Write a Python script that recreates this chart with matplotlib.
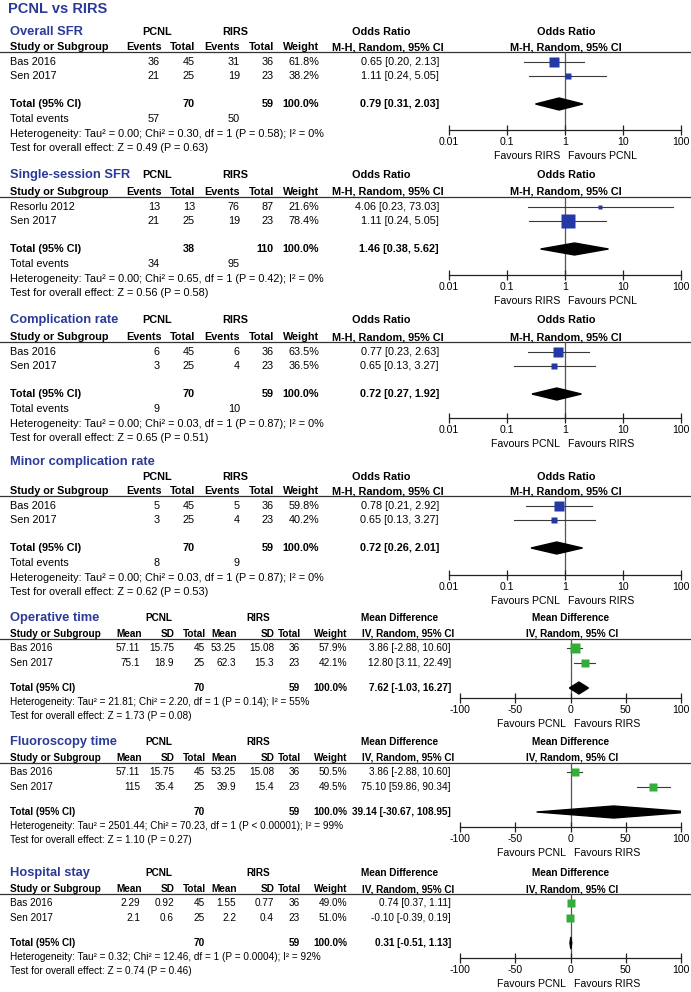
import matplotlib.pyplot as plt
import matplotlib as mpl

plt.rcParams['font.family'] = ['Liberation Sans', 'DejaVu Sans']

W, H = 691, 992

# ---------------------------------------------------------------------------
# data
# ---------------------------------------------------------------------------
titles = ['Overall SFR', 'Single-session SFR', 'Complication rate', 'Minor complication rate',
          'Operative time', 'Fluoroscopy time', 'Hospital stay']
kinds = ['or', 'or', 'or', 'or', 'md', 'md', 'md']

studies = [['Bas 2016', 'Sen 2017'], ['Resorlu 2012', 'Sen 2017'], ['Bas 2016', 'Sen 2017'],
           ['Bas 2016', 'Sen 2017'], ['Bas 2016', 'Sen 2017'], ['Bas 2016', 'Sen 2017'],
           ['Bas 2016', 'Sen 2017']]

# dichotomous outcomes (odds ratio)
pcnl_events = [[36, 21], [13, 21], [6, 3], [5, 3]]
rirs_events = [[31, 19], [76, 19], [6, 4], [5, 4]]
total_events = [(57, 50), (34, 95), (9, 10), (8, 9)]

# continuous outcomes (mean difference)
pcnl_mean = [[57.11, 75.1], [57.11, 115], [2.29, 2.1]]
pcnl_sd = [[15.75, 18.9], [15.75, 35.4], [0.92, 0.6]]
rirs_mean = [[53.25, 62.3], [53.25, 39.9], [1.55, 2.2]]
rirs_sd = [[15.08, 15.3], [15.08, 15.4], [0.77, 0.4]]

pcnl_total = [[45, 25], [13, 25], [45, 25], [45, 25], [45, 25], [45, 25], [45, 25]]
rirs_total = [[36, 23], [87, 23], [36, 23], [36, 23], [36, 23], [36, 23], [36, 23]]
weights = [[61.8, 38.2], [21.6, 78.4], [63.5, 36.5], [59.8, 40.2], [57.9, 42.1], [50.5, 49.5], [49.0, 51.0]]

est = [[0.65, 1.11], [4.06, 1.11], [0.77, 0.65], [0.78, 0.65], [3.86, 12.80], [3.86, 75.10], [0.74, -0.10]]
ci_lo = [[0.20, 0.24], [0.23, 0.24], [0.23, 0.13], [0.21, 0.13], [-2.88, 3.11], [-2.88, 59.86], [0.37, -0.39]]
ci_hi = [[2.13, 5.05], [73.03, 5.05], [2.63, 3.27], [2.92, 3.27], [10.60, 22.49], [10.60, 90.34], [1.11, 0.19]]

pooled = [(0.79, 0.31, 2.03), (1.46, 0.38, 5.62), (0.72, 0.27, 1.92), (0.72, 0.26, 2.01),
          (7.62, -1.03, 16.27), (39.14, -30.67, 108.95), (0.31, -0.51, 1.13)]

tau2 = ['0.00', '0.00', '0.00', '0.00', '21.81', '2501.44', '0.32']
chi2 = ['0.30', '0.65', '0.03', '0.03', '2.20', '70.23', '12.46']
p_het = ['= 0.58', '= 0.42', '= 0.87', '= 0.87', '= 0.14', '< 0.00001', '= 0.0004']
i2 = [0, 0, 0, 0, 55, 99, 92]
z_val = ['0.49', '0.56', '0.65', '0.62', '1.73', '1.10', '0.74']
p_z = ['0.63', '0.58', '0.51', '0.53', '0.08', '0.27', '0.46']

favours = [('Favours RIRS', 'Favours PCNL'), ('Favours RIRS', 'Favours PCNL'),
           ('Favours PCNL', 'Favours RIRS'), ('Favours PCNL', 'Favours RIRS'),
           ('Favours PCNL', 'Favours RIRS'), ('Favours PCNL', 'Favours RIRS'),
           ('Favours PCNL', 'Favours RIRS')]

# ---------------------------------------------------------------------------
# layout (pixel rows)
# ---------------------------------------------------------------------------
header_y = [32, 175, 320, 477, 618, 742, 873]
study_y = [47, 192, 337, 491, 634, 758, 889]
axis_y = [130, 275, 418, 575, 698, 827, 958]

blue = '#2b3a98'
sq_blue = '#2438a6'
sq_green = '#35ad3c'

fig = plt.figure(figsize=(W / 100, H / 100), dpi=100)
bg = fig.add_axes([0, 0, 1, 1])
bg.set_xlim(0, W)
bg.set_ylim(H, 0)
bg.axis('off')

fs = 7.8


def txt(x, y, s, ha='left', bold=False, **kw):
    bg.text(x, y, s, ha=ha, va='center', fontsize=kw.pop('size', fs),
            fontweight='bold' if bold else 'normal', **kw)


bg.text(8, 9, 'PCNL vs RIRS', fontsize=10.5, fontweight='bold', color=blue, va='center')

for i, title in enumerate(titles):
    kind = kinds[i]
    hy, sy, ay = header_y[i], study_y[i], axis_y[i]
    line_y = sy + 5
    fs = 7.8 if kind == 'or' else 7.2

    # section title
    txt(10, 462 if i == 3 else hy, title, bold=True, size=9.3, color=blue)

    bg.plot([0, W], [line_y, line_y], color='#333333', lw=0.9)

    if kind == 'or':
        rows = [sy + 15, sy + 29]
        tot_y = sy + 57
        het_y, test_y = sy + 87, sy + 101
        txt(157, hy, 'PCNL', ha='center', bold=True)
        txt(235, hy, 'RIRS', ha='center', bold=True)
        txt(10, sy, 'Study or Subgroup', bold=True)
        for x, lab in zip([162, 195, 240, 274, 319], ['Events', 'Total', 'Events', 'Total', 'Weight']):
            txt(x, sy, lab, ha='right', bold=True)
        txt(381, hy, 'Odds Ratio', ha='center', bold=True)
        txt(388, sy, 'M-H, Random, 95% CI', ha='center', bold=True)
        txt(566, hy, 'Odds Ratio', ha='center', bold=True)
        txt(566, sy, 'M-H, Random, 95% CI', ha='center', bold=True)
        for k, y in enumerate(rows):
            txt(10, y, studies[i][k])
            txt(160, y, str(pcnl_events[i][k]), ha='right')
            txt(195, y, str(pcnl_total[i][k]), ha='right')
            txt(240, y, str(rirs_events[i][k]), ha='right')
            txt(274, y, str(rirs_total[i][k]), ha='right')
            txt(319, y, f'{weights[i][k]:.1f}%', ha='right')
            txt(439, y, f'{est[i][k]:.2f} [{ci_lo[i][k]:.2f}, {ci_hi[i][k]:.2f}]', ha='right')
        txt(10, tot_y, 'Total (95% CI)', bold=True)
        txt(195, tot_y, str(sum(pcnl_total[i])), ha='right', bold=True)
        txt(274, tot_y, str(sum(rirs_total[i])), ha='right', bold=True)
        txt(319, tot_y, '100.0%', ha='right', bold=True)
        e, l, h = pooled[i]
        txt(439, tot_y, f'{e:.2f} [{l:.2f}, {h:.2f}]', ha='right', bold=True)
        txt(10, sy + 72, 'Total events')
        txt(160, sy + 72, str(total_events[i][0]), ha='right')
        txt(240, sy + 72, str(total_events[i][1]), ha='right')
        x0, x1 = 449, 681
        lims, null = (0.01, 100), 1
        color = sq_blue
    else:
        j = i - 4
        rows = [sy + 14, sy + 29]
        tot_y = sy + 54
        het_y, test_y = sy + 68, sy + 82
        txt(159, hy, 'PCNL', ha='center', bold=True)
        txt(258, hy, 'RIRS', ha='center', bold=True)
        txt(10, sy, 'Study or Subgroup', bold=True)
        for x, lab in zip([142, 175, 206, 237, 275, 301, 347],
                          ['Mean', 'SD', 'Total', 'Mean', 'SD', 'Total', 'Weight']):
            txt(x, sy, lab, ha='right', bold=True)
        txt(400, hy, 'Mean Difference', ha='center', bold=True)
        txt(408, sy, 'IV, Random, 95% CI', ha='center', bold=True)
        txt(571, hy, 'Mean Difference', ha='center', bold=True)
        txt(572, sy, 'IV, Random, 95% CI', ha='center', bold=True)
        for k, y in enumerate(rows):
            txt(10, y, studies[i][k])
            txt(140, y, str(pcnl_mean[j][k]), ha='right')
            txt(174, y, str(pcnl_sd[j][k]), ha='right')
            txt(205, y, str(pcnl_total[i][k]), ha='right')
            txt(236, y, str(rirs_mean[j][k]), ha='right')
            txt(274, y, str(rirs_sd[j][k]), ha='right')
            txt(300, y, str(rirs_total[i][k]), ha='right')
            txt(347, y, f'{weights[i][k]:.1f}%', ha='right')
            txt(451, y, f'{est[i][k]:.2f} [{ci_lo[i][k]:.2f}, {ci_hi[i][k]:.2f}]', ha='right')
        txt(10, tot_y, 'Total (95% CI)', bold=True)
        txt(205, tot_y, str(sum(pcnl_total[i])), ha='right', bold=True)
        txt(300, tot_y, str(sum(rirs_total[i])), ha='right', bold=True)
        txt(347, tot_y, '100.0%', ha='right', bold=True)
        e, l, h = pooled[i]
        txt(451, tot_y, f'{e:.2f} [{l:.2f}, {h:.2f}]', ha='right', bold=True)
        x0, x1 = 460, 681
        lims, null = (-100, 100), 0
        color = sq_green

    txt(10, het_y, f'Heterogeneity: Tau² = {tau2[i]}; Chi² = {chi2[i]}, df = 1 '
                   f'(P {p_het[i]}); I² = {i2[i]}%')
    txt(10, test_y, f'Test for overall effect: Z = {z_val[i]} (P = {p_z[i]})')

    # forest panel: y in figure pixels, x on the effect scale
    ax = fig.add_axes([x0 / W, 1 - ay / H, (x1 - x0) / W, (ay - line_y) / H])
    ax.patch.set_alpha(0)
    if kind == 'or':
        ax.set_xscale('log')
        ticks = [0.01, 0.1, 1, 10, 100]
        ticklabels = ['0.01', '0.1', '1', '10', '100']
    else:
        ticks = [-100, -50, 0, 50, 100]
        ticklabels = ['-100', '-50', '0', '50', '100']
    ax.set_xlim(*lims)
    ax.set_ylim(ay, line_y)
    ax.set_xticks(ticks)
    ax.set_xticklabels(ticklabels)
    ax.minorticks_off()
    ax.set_yticks([])
    for s in ['top', 'left', 'right']:
        ax.spines[s].set_visible(False)
    ax.spines['bottom'].set_linewidth(0.9)
    ax.spines['bottom'].set_color('#222222')
    ax.tick_params(axis='x', direction='inout', length=7, width=0.9, labelsize=7.6, pad=1.5,
                   color='#222222')
    ax.axvline(null, color='#555555', lw=0.9, zorder=1)

    for k, y in enumerate(rows):
        ax.plot([ci_lo[i][k], ci_hi[i][k]], [y, y], color='#3a3a3a', lw=0.8, zorder=2)
        ax.plot([est[i][k]], [y], marker='s', ms=0.122 * weights[i][k], color=color,
                mec='none', zorder=3)
    e, l, h = pooled[i]
    ax.fill([l, e, h, e], [tot_y, tot_y - 6, tot_y, tot_y + 6], color='black', zorder=3)

    left, right = favours[i]
    ax.annotate(left, xy=(null, 0), xycoords=('data', 'axes fraction'), xytext=(-3.5, -18.5),
                textcoords='offset points', ha='right', va='center', fontsize=7.6)
    ax.annotate(right, xy=(null, 0), xycoords=('data', 'axes fraction'), xytext=(2.5, -18.5),
                textcoords='offset points', ha='left', va='center', fontsize=7.6)

fig.savefig('out.png', dpi=100)
